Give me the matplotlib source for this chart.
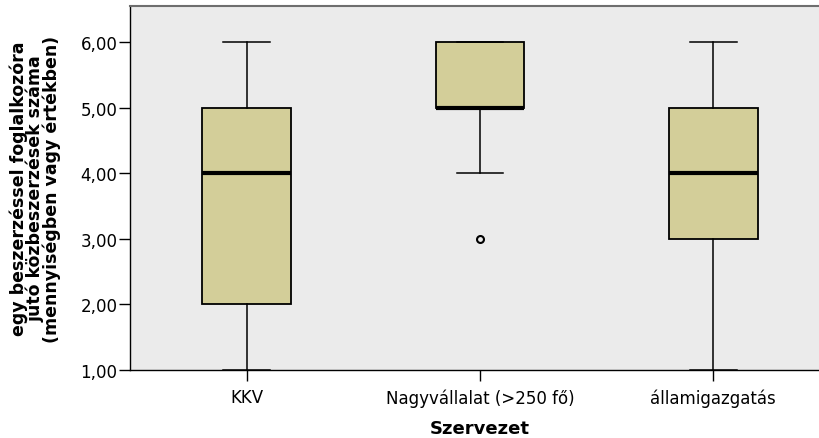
import matplotlib
matplotlib.use("Agg")
import matplotlib.pyplot as plt

# values
categories = ["KKV", "Nagyvállalat (>250 fő)", "államigazgatás"]
whisker_low = [1.0, 4.0, 1.0]
q1 = [2.0, 5.0, 3.0]
medians = [4.0, 5.0, 4.0]
q3 = [5.0, 6.0, 5.0]
whisker_high = [6.0, 6.0, 6.0]
outliers = [[], [3.0], []]
yticks = [1, 2, 3, 4, 5, 6]

stats = []
for i, name in enumerate(categories):
    stats.append({"label": name, "whislo": whisker_low[i], "q1": q1[i],
                  "med": medians[i], "q3": q3[i], "whishi": whisker_high[i],
                  "fliers": outliers[i]})

plt.rcParams['font.family'] = ['DejaVu Sans']

fig = plt.figure(figsize=(8.19, 4.39), dpi=100)
ax = fig.add_axes([130 / 819, 68 / 439, 700 / 819, 364 / 439])
ax.set_facecolor("#ebebeb")

ax.bxp(stats, positions=[1, 2, 3], widths=0.38, patch_artist=True,
       boxprops=dict(facecolor="#d3ce99", edgecolor="black", linewidth=1.3),
       medianprops=dict(color="black", linewidth=3),
       whiskerprops=dict(color="black", linewidth=1.1),
       capprops=dict(color="black", linewidth=1.1), capwidths=0.2,
       flierprops=dict(marker="o", markerfacecolor="none", markeredgecolor="black",
                       markersize=5, markeredgewidth=1.5))

ax.set_xlim(0.5, 3.5)
ax.set_ylim(1.0, 6.55)
ax.set_yticks(yticks)
ax.set_yticklabels([("%.2f" % v).replace(".", ",") for v in yticks])

ax.spines["right"].set_visible(False)
ax.spines["top"].set_color("#6e6e6e")
ax.spines["top"].set_linewidth(1.5)
for s in ["left", "bottom"]:
    ax.spines[s].set_color("black")
    ax.spines[s].set_linewidth(1.0)

ax.tick_params(axis="both", direction="out", length=8, width=1.0,
               labelsize=12, colors="black")
ax.tick_params(axis="y", pad=1)
ax.tick_params(axis="x", pad=5)

ax.set_xlabel("Szervezet", fontsize=13, fontweight="bold", labelpad=9)
ax.set_ylabel("egy beszerzéssel foglalkozóra\njutó közbeszerzések száma\n(mennyiségben vagy értékben)",
              fontsize=12.5, fontweight="bold", linespacing=0.85)
ax.yaxis.set_label_coords(-0.099, 0.5)

fig.savefig("out.png", dpi=100)
